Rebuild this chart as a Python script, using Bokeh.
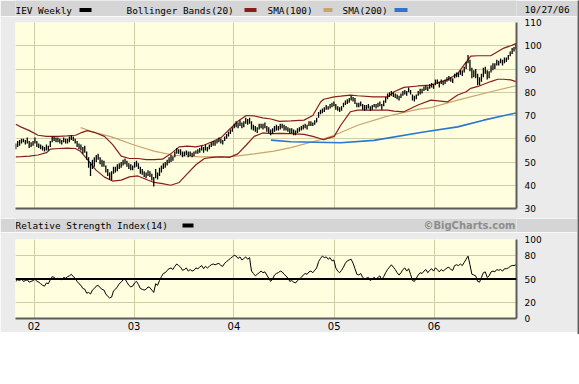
import pandas as pd
from bokeh.plotting import figure
from bokeh.layouts import column, row
from bokeh.models import (Range1d, FixedTicker, LinearAxis, DatetimeAxis,
                          DatetimeTickFormatter, Span, Grid)
from bokeh.core.properties import value
from bokeh.embed import file_html
from bokeh.resources import INLINE

# ---------------- data ----------------
FIRST_WEEK = "2001-10-26"

high = [58, 59, 59.5, 60, 60, 59.5, 60.5, 59, 58.5, 59,
        60.5, 59, 58, 57.5, 57, 56.5, 57.5, 57, 59, 61, 61, 60.5, 60.5,
        60, 59.5, 60.5, 60, 60, 61, 61.5, 61, 60, 59, 58, 57.5, 56.5,
        57, 54.5, 52, 50, 51, 52, 53, 53.5, 52, 51, 50.5, 48.5, 47,
        45.5, 46, 48, 48, 49, 49.5, 50, 51, 51.5, 50.5, 49.5, 49, 48.5,
        50, 50.5, 49.5, 48, 47, 46, 45.5, 46.5, 46, 45, 43.5, 47, 45.5,
        47.5, 48.5, 49.5, 50, 51, 52, 53, 52.5, 54.5, 56, 55.5, 55.5, 54.5,
        54.5, 55, 54.5, 54.5, 54, 54.5, 55, 55.5, 56, 57, 56.5, 57.5, 56.5,
        57.5, 58.5, 59, 59, 59.5, 60.5, 60, 59.5, 61, 62, 63, 64, 65,
        66.5, 67.5, 67, 68, 67, 67.5, 69, 68.5, 69, 67.5, 66, 65.5, 65,
        66.5, 66.5, 66.5, 67, 65.5, 65, 64, 64.5, 65.5, 66, 65.5, 66.5, 66.5,
        66, 65.5, 65, 64.5, 64.5, 64, 63.5, 64.5, 65, 65.5, 66, 66.5, 66,
        67.5, 67.5, 67, 68, 69, 71.5, 72.5, 73, 73.5, 74.5, 74, 75, 75.5, 76,
        75, 74, 73.5, 74, 75.5, 76.5, 77, 77.5, 78.5, 78, 77.5, 75.5,
        75.5, 76, 75, 74.5, 74.5, 75, 74, 74.5, 75, 75, 75.5, 76, 75,
        76.5, 78, 79.5, 80, 80.5, 80, 79.5, 79, 78.5, 79.5, 80.5, 81, 80.5, 82,
        81, 79, 78.5, 79, 80.5, 81.5, 81.5, 82.5, 83, 82.5, 83.5, 84, 83.5,
        85.5, 85.5, 84.5, 85.5, 85, 85.5, 86.5, 87, 86.5, 86, 88, 88.5, 88.5,
        89.5, 89.5, 91, 93, 96, 94, 90.5, 89.5, 90, 88, 86.5, 88, 90.5,
        91, 89.5, 89, 91.5, 92.5, 92.5, 94, 93.5, 94.5, 94, 95, 95, 96,
        97.5, 99, 99.5, 101]

low = [55.5, 56.5, 57, 58, 58.5, 57.5, 58, 56, 56.5, 57,
       58, 56.5, 56, 55.5, 55, 54.5, 55, 55, 56.5, 58.5, 59, 58.5, 58.5,
       58, 57.5, 58.5, 58, 58, 58.5, 59.5, 59, 58, 56.5, 55.5, 55, 53.5,
       54, 51, 47.5, 44, 47, 48, 50, 51, 49, 48, 48, 45.5, 44,
       42.5, 42, 45, 45.5, 46, 47, 47.5, 48.5, 49, 48, 47, 46.5, 46.5,
       47.5, 48, 47, 45, 44.5, 43.5, 43, 44, 43.5, 42, 39.5, 43, 42.5,
       44, 45.5, 47, 47.5, 48.5, 49.5, 50, 50.5, 52, 53.5, 53.5, 53, 52,
       52.5, 53, 52, 52.5, 52, 52.5, 53.5, 53.5, 54, 55, 54, 55, 54.5,
       55.5, 56.5, 57, 57, 58, 58.5, 58, 57.5, 59, 60, 61, 62, 63,
       64.5, 65, 64.5, 65.5, 64.5, 65, 66.5, 66, 66.5, 64, 63.5, 63, 62.5,
       64, 64.5, 64, 64.5, 63, 62.5, 61.5, 62, 63, 63.5, 63.5, 64, 64.5,
       63.5, 63.5, 63, 62, 62.5, 61.5, 61.5, 62.5, 63, 63.5, 64, 64.5, 64,
       65.5, 65.5, 65.5, 66, 67, 69, 70.5, 71, 71.5, 72.5, 72.5, 73, 73.5, 74,
       72.5, 72, 71.5, 72, 73.5, 74.5, 75, 75.5, 76.5, 76, 75, 73.5,
       73.5, 74, 72.5, 72, 72.5, 73, 72, 72.5, 73.5, 73, 73.5, 74, 72.5,
       74, 75.5, 77, 78, 78.5, 78, 77.5, 77, 76.5, 77.5, 78.5, 79, 78.5, 80,
       79, 76.5, 76, 77, 78.5, 79, 79.5, 80.5, 81, 80.5, 81.5, 82, 81.5,
       83, 83.5, 82, 83.5, 83, 83.5, 84.5, 85, 84.5, 84, 86, 86.5, 86.5,
       87.5, 87, 88.5, 90, 92.5, 89, 86, 86.5, 86, 83, 83, 84.5, 86.5,
       88, 85.5, 86, 88.5, 89.5, 90, 91.5, 91.5, 92.5, 91.5, 92.5, 93, 94,
       95.5, 96.5, 97.5, 98.5]

rsi = [47, 49, 48, 50, 47, 48, 49, 46, 47, 48,
       50, 47, 46, 44, 42, 41, 45, 44, 49, 53, 52, 50, 51,
       50, 49, 52, 51, 53, 54, 56, 53, 51, 47, 44, 42, 38,
       37, 32, 33, 31, 36, 38, 41, 42, 39, 37, 36, 31, 28,
       26, 27, 35, 37, 40, 44, 46, 49, 50, 46, 42, 40, 41,
       45, 47, 43, 38, 37, 36, 37, 40, 39, 36, 33, 44, 42,
       48, 53, 57, 58, 61, 63, 64, 62, 66, 69, 67, 65, 61,
       62, 64, 60, 62, 60, 61, 64, 63, 65, 67, 63, 66, 64,
       66, 68, 69, 68, 69, 70, 67, 66, 70, 72, 74, 76, 78,
       80, 79, 76, 78, 74, 76, 78, 75, 77, 60, 57, 54, 56,
       58, 60, 58, 59, 55, 51, 47, 50, 55, 57, 58, 60, 59,
       56, 54, 51, 47, 48, 46, 45, 48, 50, 52, 55, 57, 56,
       59, 60, 58, 61, 64, 72, 76, 79, 77, 78, 75, 77, 73, 74,
       64, 60, 58, 61, 65, 70, 73, 74, 75, 70, 63, 56,
       55, 57, 52, 50, 51, 52, 48, 50, 52, 50, 52, 54, 49,
       53, 58, 62, 65, 68, 65, 62, 58, 55, 58, 62, 64, 60, 63,
       56, 48, 47, 51, 55, 58, 57, 60, 62, 58, 61, 63, 60,
       64, 62, 59, 62, 60, 62, 64, 65, 62, 61, 67, 68, 67,
       69, 67, 71, 75, 79, 68, 56, 55, 54, 47, 46, 52, 58,
       59, 52, 54, 59, 60, 59, 62, 61, 62, 60, 63, 63, 64,
       66, 67, 67, 68]

bb_dates = ["2001-10-26", "2001-11-15", "2001-12-15", "2002-01-15", "2002-02-15",
            "2002-03-01", "2002-04-01", "2002-05-01", "2002-06-01", "2002-06-20",
            "2002-07-15", "2002-08-15", "2002-09-15", "2002-10-15", "2002-11-15",
            "2002-12-15", "2003-01-15", "2003-02-15", "2003-03-15", "2003-04-15",
            "2003-05-15", "2003-06-15", "2003-07-15", "2003-08-15", "2003-09-15",
            "2003-10-15", "2003-11-15", "2003-12-15", "2004-01-15", "2004-02-15",
            "2004-03-15", "2004-04-15", "2004-05-15", "2004-06-15", "2004-07-27",
            "2004-09-13", "2004-10-15", "2004-11-13", "2004-11-24", "2005-01-01",
            "2005-01-25", "2005-03-01", "2005-03-28", "2005-05-25", "2005-07-15",
            "2005-08-08", "2005-09-13", "2005-11-03", "2005-12-20", "2006-02-20",
            "2006-03-28", "2006-04-28", "2006-05-15", "2006-06-10", "2006-07-27",
            "2006-08-22", "2006-09-13", "2006-10-08", "2006-10-27"]
bb_upper = [66.2, 65.0, 63.5, 61.5, 61.0, 61.0, 61.0, 61.2, 61.5, 62.5,
            63.5, 62.5, 61.0, 57.5, 52.5, 51.5, 51.5, 51.0, 51.0, 51.2,
            53.5, 56.5, 56.8, 56.5, 57.3, 58.8, 60.5, 64.0, 67.5, 70.0,
            69.8, 69.0, 68.5, 67.5, 67.7, 68.0, 70.0, 75.9, 77.0, 78.0,
            78.3, 78.8, 78.5, 78.0, 78.0, 80.2, 82.1, 82.7, 83.1, 85.5,
            88.0, 93.0, 95.5, 95.7, 95.7, 97.5, 99.0, 100.0, 100.9]
bb_lower = [52.2, 52.3, 52.5, 53.0, 54.0, 55.5, 55.8, 56.0, 55.8, 54.5,
            51.0, 46.5, 43.5, 41.8, 42.2, 43.6, 44.0, 42.5, 41.2, 40.7,
            40.0, 41.2, 45.0, 48.8, 51.5, 52.0, 52.2, 52.0, 53.5, 57.3,
            61.0, 62.5, 62.2, 62.3, 62.2, 61.9, 61.0, 60.0, 59.6, 61.0,
            65.8, 71.6, 72.3, 72.3, 72.3, 71.9, 71.6, 74.5, 76.6, 75.9,
            78.8, 80.2, 81.7, 82.5, 84.6, 85.6, 85.6, 85.3, 84.6]

sma100_dates = ["2002-06-20", "2002-08-01", "2002-10-08", "2003-01-01", "2003-03-15",
                "2003-05-26", "2003-09-01", "2004-01-01", "2004-03-15", "2004-05-26",
                "2004-07-27", "2004-11-24", "2005-01-01", "2005-03-28", "2005-07-15",
                "2005-11-01", "2005-12-20", "2006-03-28", "2006-07-27", "2006-10-27"]
sma100 = [64.8, 63.0, 60.9, 57.3, 54.7, 52.9, 52.2, 52.4, 53.5, 54.7,
          56.2, 60.0, 61.5, 65.8, 69.7, 72.6, 73.4, 76.6, 80.2, 82.8]

sma200_dates = ["2004-05-15", "2004-07-27", "2005-01-25", "2005-05-26",
                "2005-11-24", "2006-03-28", "2006-07-01", "2006-10-27"]
sma200 = [59.4, 58.7, 58.3, 59.3, 62.9, 65.1, 68.0, 71.1]

price_ticks = [30, 40, 50, 60, 70, 80, 90, 100, 110]
rsi_ticks = [0, 20, 50, 80, 100]
year_ticks = ["2002-01-01", "2003-01-01", "2004-01-01", "2005-01-01", "2006-01-01"]
legend_labels = ["IEV Weekly", "Bollinger Bands(20)", "SMA(100)", "SMA(200)"]
as_of = "10/27/06"
rsi_title = "Relative Strength Index(14)"
brand = "\u00a9BigCharts.com"

# ---------------- styles ----------------
OUTER = "#ebebeb"
HDR = "#d5d5d5"
PLOT_BG = "#ffffe0"
GRID = "#cdcda6"
FRAME_DARK = "#5c5c5c"
C_PRICE = "black"
C_BB = "#8b1c1c"
C_SMA100 = "#c9a46a"
C_SMA200 = "#2b76d2"
MONO_NAME = "DejaVu Sans Mono"
MONO = value(MONO_NAME)
MONO_SIZE = "9.4px"
SANS = "DejaVu Sans"

W = 577
FRAME_W = 501
LEFT = 15
RIGHT = W - LEFT - FRAME_W
X_START = pd.Timestamp("2001-10-25")
X_END = pd.Timestamp("2006-10-29")


def ms(d):
    return pd.Timestamp(d).value / 1e6


weeks = pd.date_range(FIRST_WEEK, periods=len(high), freq="7D")
rsi_weeks = pd.date_range(FIRST_WEEK, periods=len(rsi), freq="7D")
year_ms = [ms(d) for d in year_ticks]


def header(height, y0):
    # frame aligned with the chart frames (x 15..516); data x == pixel x
    return figure(width=W, height=height, x_range=Range1d(LEFT, LEFT + FRAME_W),
                  y_range=Range1d(y0, y0 + height),
                  x_axis_type=None, y_axis_type=None, toolbar_location=None,
                  output_backend="svg", min_border_left=LEFT, min_border_right=RIGHT,
                  min_border_top=0, min_border_bottom=0, outline_line_color=None,
                  background_fill_color=HDR, border_fill_color=HDR)


def style_value_axis(ax, ticks):
    ax.ticker = FixedTicker(ticks=ticks)
    ax.major_tick_out = 0
    ax.major_tick_in = 0
    ax.minor_tick_out = 0
    ax.minor_tick_in = 0
    ax.axis_line_color = FRAME_DARK
    ax.axis_line_width = 2
    ax.major_label_standoff = 8
    ax.major_label_text_font = SANS
    ax.major_label_text_font_size = "9px"
    ax.major_label_text_color = "black"


# ---------------- header 1 ----------------
h1 = header(16, -0.5)
h1.text(x=[15, 126, 267, 342], y=[6] * 4, text=legend_labels, text_font=MONO,
        text_font_size=MONO_SIZE, text_baseline="middle", text_align="left", text_color="black")
h1.quad(left=[79, 244, 323, 394], right=[91, 256, 332, 407], bottom=[4] * 4, top=[8] * 4,
        fill_color=[C_PRICE, C_BB, C_SMA100, C_SMA200], line_color=None)
date_ax = LinearAxis(ticker=FixedTicker(ticks=[7]), major_label_overrides={7: as_of},
                     axis_line_color=None, major_tick_out=0, major_tick_in=0,
                     minor_tick_out=0, minor_tick_in=0, major_label_standoff=8,
                     major_label_text_font=MONO_NAME, major_label_text_font_size=MONO_SIZE,
                     major_label_text_color="black")
h1.add_layout(date_ax, "right")

# ---------------- price panel ----------------
p = figure(width=W, height=202, x_range=Range1d(X_START, X_END), y_range=Range1d(30, 110),
           x_axis_type=None, y_axis_type=None, toolbar_location=None, output_backend="svg",
           min_border_left=LEFT, min_border_right=RIGHT,
           min_border_top=6, min_border_bottom=10,
           background_fill_color=PLOT_BG, border_fill_color=OUTER, outline_line_color=None)
p.add_layout(Grid(dimension=0, ticker=FixedTicker(ticks=year_ms), grid_line_color=GRID))
p.add_layout(Grid(dimension=1, ticker=FixedTicker(ticks=price_ticks), grid_line_color=GRID))
yax = LinearAxis()
style_value_axis(yax, price_ticks)
p.add_layout(yax, "right")
bax = LinearAxis(ticker=FixedTicker(ticks=[]), axis_line_color=FRAME_DARK, axis_line_width=2,
                 major_tick_out=0, minor_tick_out=0)
p.add_layout(bax, "below")

p.line(pd.to_datetime(sma100_dates), sma100, line_color=C_SMA100, line_width=1.2)
p.line(pd.to_datetime(sma200_dates), sma200, line_color=C_SMA200, line_width=1.6)
p.line(pd.to_datetime(bb_dates), bb_upper, line_color=C_BB, line_width=1.2)
p.line(pd.to_datetime(bb_dates), bb_lower, line_color=C_BB, line_width=1.2)
p.segment(x0=weeks, y0=low, x1=weeks, y1=high, line_color=C_PRICE, line_width=1.3)

# ---------------- header 2 ----------------
h2 = header(14, 0)
h2.text(x=[15], y=[7], text=[rsi_title], text_font=MONO, text_font_size=MONO_SIZE,
        text_baseline="middle", text_align="left", text_color="black")
h2.quad(left=[182], right=[193], bottom=[5], top=[9], fill_color=C_PRICE, line_color=None)
h2.text(x=[515], y=[7], text=[brand], text_font=value(SANS), text_font_size="10px",
        text_font_style="bold", text_baseline="middle", text_align="right", text_color="#8d8d8d")

# ---------------- RSI panel ----------------
r = figure(width=W, height=100, x_range=p.x_range, y_range=Range1d(0, 100),
           x_axis_type=None, y_axis_type=None, toolbar_location=None, output_backend="svg",
           min_border_left=LEFT, min_border_right=RIGHT,
           min_border_top=7, min_border_bottom=14,
           background_fill_color=PLOT_BG, border_fill_color=OUTER, outline_line_color=None)
r.add_layout(Grid(dimension=0, ticker=FixedTicker(ticks=year_ms), grid_line_color=GRID))
r.add_layout(Grid(dimension=1, ticker=FixedTicker(ticks=rsi_ticks), grid_line_color=GRID))
ryax = LinearAxis()
style_value_axis(ryax, rsi_ticks)
r.add_layout(ryax, "right")
fmt = "%y"
rxax = DatetimeAxis(ticker=FixedTicker(ticks=year_ms),
                    formatter=DatetimeTickFormatter(years=fmt, months=fmt, days=fmt, hours=fmt,
                                                    hourmin=fmt, minutes=fmt, minsec=fmt,
                                                    seconds=fmt, milliseconds=fmt,
                                                    microseconds=fmt),
                    axis_line_color=FRAME_DARK, axis_line_width=2,
                    major_tick_out=0, major_tick_in=0, minor_tick_out=0, minor_tick_in=0,
                    major_label_standoff=3, major_label_text_font=SANS,
                    major_label_text_font_size="10px", major_label_text_color="black")
r.add_layout(rxax, "below")
r.add_layout(Span(location=50, dimension="width", line_color="black", line_width=2))
r.line(rsi_weeks, rsi, line_color="black", line_width=1)


# ---------------- outer frame lines ----------------
def bar_fig(w, h):
    return figure(width=w, height=h, x_axis_type=None, y_axis_type=None,
                  toolbar_location=None, output_backend="svg", min_border=0,
                  outline_line_color=None, background_fill_color=FRAME_DARK,
                  border_fill_color=FRAME_DARK)


bottom_line = bar_fig(W, 2)
right_line = bar_fig(2, 16 + 202 + 14 + 100 + 2)

layout = row(column(h1, p, h2, r, bottom_line), right_line)

with open("out.html", "w") as f:
    f.write(file_html(layout, INLINE))
